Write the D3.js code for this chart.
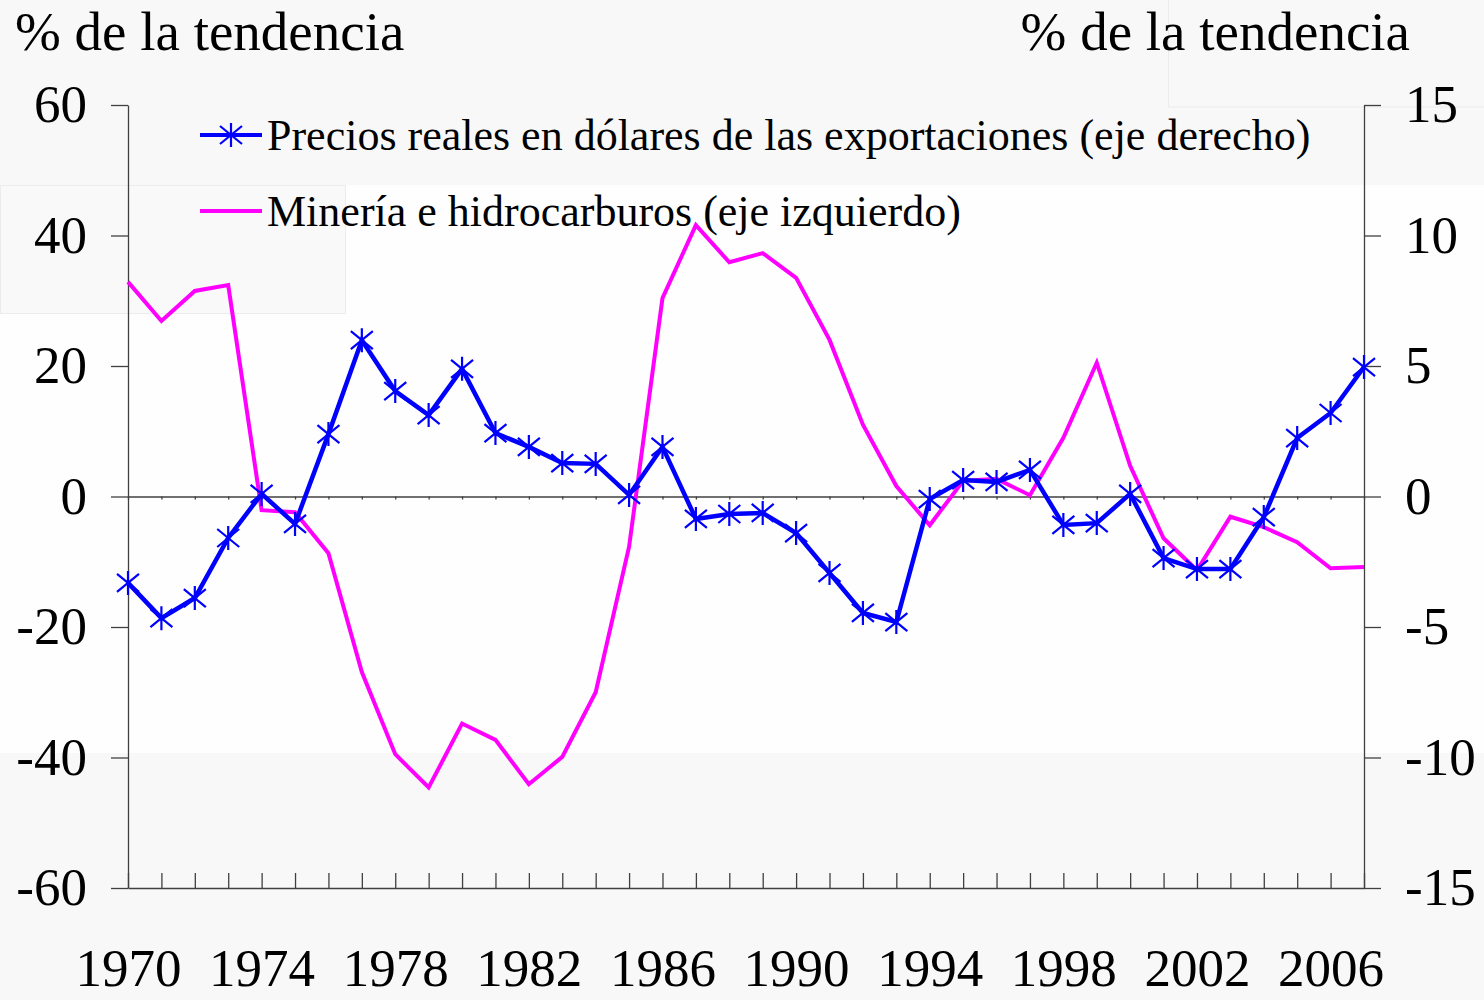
<!DOCTYPE html>
<html>
<head>
<meta charset="utf-8">
<script src="https://cdn.jsdelivr.net/npm/d3@7"></script>
<style>
    body { margin: 0; background: #f8f8f8; }
    svg { display: block; }
    text { font-family: "Liberation Serif", "Times New Roman", serif; fill: #000; }
    .axis path, .axis line { stroke: #404040; stroke-width: 1.3; }
</style>
</head>
<body>
<svg id="chart" width="1484" height="1000"></svg>
<script>
// Years on the x axis
var years = d3.range(1970, 2008);

// Years that get a label
var yearLabels = [1970, 1974, 1978, 1982, 1986, 1990, 1994, 1998, 2002, 2006];

// Precios reales en dolares de las exportaciones (eje derecho, %)
var precios = [-3.31, -4.66, -3.89, -1.59, 0.10, -1.05, 2.39, 5.99, 4.04, 3.12,
    4.89, 2.43, 1.90, 1.28, 1.25, 0.06, 1.90, -0.86, -0.67, -0.63,
    -1.40, -2.93, -4.46, -4.81, -0.10, 0.63, 0.56, 1.02, -1.09, -1.02,
    0.10, -2.36, -2.78, -2.78, -0.79, 2.24, 3.20, 4.96];

// Mineria e hidrocarburos (eje izquierdo, %)
var mineria = [32.9, 26.9, 31.5, 32.4, -2.1, -2.4, -8.7, -26.9, -39.5, -44.6,
    -34.8, -37.3, -44.1, -39.9, -30.0, -7.7, 30.4, 41.6, 35.9, 37.3,
    33.5, 24.0, 11.0, 1.6, -4.4, 2.4, 2.7, 0.2, 9.0, 20.5,
    4.7, -6.4, -11.3, -3.1, -4.7, -7.0, -11.0, -10.8];

var leftTicks = [-60, -40, -20, 0, 20, 40, 60];
var rightTicks = [-15, -10, -5, 0, 5, 10, 15];

var legendNames = [
    "Precios reales en dólares de las exportaciones (eje derecho)",
    "Minería e hidrocarburos (eje izquierdo)"
];

var plot = { left: 128, right: 1364, top: 105, bottom: 888 };

var svg = d3.select("#chart");

// Faint background patches
svg.append("rect").attr("x", 345).attr("y", 185).attr("width", 1139).attr("height", 130).attr("fill", "#fefefe");
svg.append("rect").attr("x", 0).attr("y", 313).attr("width", 1484).attr("height", 440).attr("fill", "#fefefe");
svg.append("rect").attr("x", 0.5).attr("y", 185.5).attr("width", 345).attr("height", 128)
    .attr("fill", "#f9f9f9").attr("stroke", "#ececec");
svg.append("rect").attr("x", 1168.5).attr("y", -2).attr("width", 320).attr("height", 109)
    .attr("fill", "none").attr("stroke", "#ececec");

// Scales
var xScale = d3.scaleLinear()
    .domain([1970, 2007])
    .range([plot.left, plot.right]);

var yLeft = d3.scaleLinear()
    .domain([-60, 60])
    .range([plot.bottom, plot.top]);

var yRight = d3.scaleLinear()
    .domain([-15, 15])
    .range([plot.bottom, plot.top]);

// Plain hyphen for negative numbers, as in the original
var plainFormat = function(d) { return String(d); };

// Zero line with small year ticks
svg.append("g")
    .attr("class", "axis")
    .attr("transform", `translate(0, ${yLeft(0)})`)
    .call(d3.axisBottom(xScale).tickValues(years).tickSizeInner(3).tickSizeOuter(0).tickFormat(""));

// Bottom axis, ticks pointing up
svg.append("g")
    .attr("class", "axis")
    .attr("transform", `translate(0, ${plot.bottom})`)
    .call(d3.axisBottom(xScale).tickValues(years).tickSizeInner(-15).tickSizeOuter(0).tickFormat(""));

// Year labels
var xLabels = svg.append("g")
    .attr("transform", `translate(0, ${plot.bottom})`)
    .call(d3.axisBottom(xScale).tickValues(yearLabels).tickSize(0).tickPadding(60).tickFormat(plainFormat));
xLabels.select(".domain").remove();
xLabels.selectAll("text").style("font-size", "53px").style("font-family", "'Liberation Serif', serif").attr("fill", "#000");

// Left axis
var leftAxis = svg.append("g")
    .attr("class", "axis")
    .attr("transform", `translate(${plot.left}, 0)`)
    .call(d3.axisLeft(yLeft).tickValues(leftTicks).tickSizeInner(17).tickSizeOuter(0).tickPadding(24).tickFormat(plainFormat));
leftAxis.selectAll("text").style("font-size", "53px").style("font-family", "'Liberation Serif', serif").attr("fill", "#000");

// Right axis
var rightAxis = svg.append("g")
    .attr("class", "axis")
    .attr("transform", `translate(${plot.right}, 0)`)
    .call(d3.axisRight(yRight).tickValues(rightTicks).tickSizeInner(17).tickSizeOuter(0).tickPadding(24).tickFormat(plainFormat));
rightAxis.selectAll("text").style("font-size", "53px").style("font-family", "'Liberation Serif', serif").attr("fill", "#000");

// Axis titles
svg.append("text")
    .attr("x", 15)
    .attr("y", 50)
    .style("font-size", "55px")
    .text("% de la tendencia");

svg.append("text")
    .attr("x", 1410)
    .attr("y", 50)
    .attr("text-anchor", "end")
    .style("font-size", "55px")
    .text("% de la tendencia");

// Lines
var lineLeft = d3.line()
    .x(function(d, i) { return xScale(years[i]); })
    .y(function(d) { return yLeft(d); });

var lineRight = d3.line()
    .x(function(d, i) { return xScale(years[i]); })
    .y(function(d) { return yRight(d); });

svg.append("path")
    .datum(mineria)
    .attr("fill", "none")
    .attr("stroke", "#ff00ff")
    .attr("stroke-width", 4)
    .attr("d", lineLeft);

svg.append("path")
    .datum(precios)
    .attr("fill", "none")
    .attr("stroke", "#0000ff")
    .attr("stroke-width", 4.5)
    .attr("d", lineRight);

// Star markers
var starPath = "M0,-12V12M-11,-9L11,9M-11,9L11,-9";

svg.selectAll(".star")
    .data(precios)
    .enter()
    .append("path")
        .attr("class", "star")
        .attr("transform", function(d, i) {
            return `translate(${xScale(years[i])}, ${yRight(d)})`;
        })
        .attr("d", starPath)
        .attr("fill", "none")
        .attr("stroke", "#0000ff")
        .attr("stroke-width", 2.2);

// Legend
var legend = svg.append("g");
var legendY = [135, 211];
var legendColors = ["#0000ff", "#ff00ff"];

legendNames.forEach(function(name, i) {
    legend.append("line")
        .attr("x1", 200).attr("x2", 262)
        .attr("y1", legendY[i]).attr("y2", legendY[i])
        .attr("stroke", legendColors[i])
        .attr("stroke-width", 4);
    if (i === 0) {
        legend.append("path")
            .attr("transform", `translate(231, ${legendY[i]})`)
            .attr("d", starPath)
            .attr("fill", "none")
            .attr("stroke", "#0000ff")
            .attr("stroke-width", 2.2);
    }
    legend.append("text")
        .attr("x", 267)
        .attr("y", legendY[i] + 15)
        .style("font-size", "44px")
        .text(name);
});
</script>
</body>
</html>
